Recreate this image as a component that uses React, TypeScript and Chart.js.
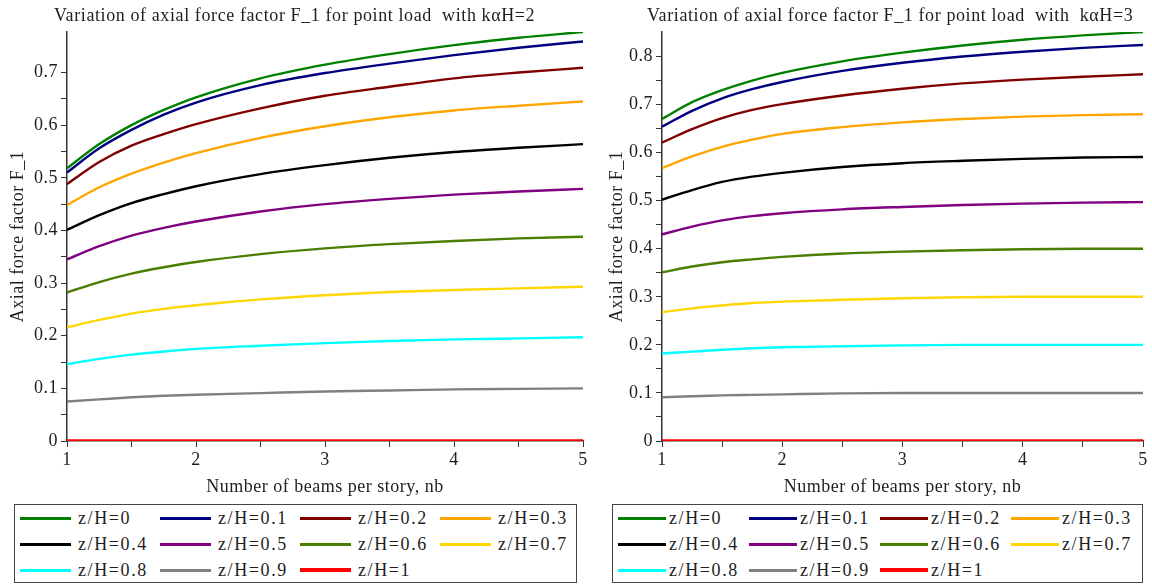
import React, { useEffect, useRef } from 'react';
import { Chart, registerables } from 'chart.js';

Chart.register(...registerables);

// Number of beams per story, nb
const nbValues = [1, 1.25, 1.5, 1.75, 2, 2.5, 3, 3.5, 4, 4.5, 5];

const seriesLabels = [
  'z/H=0', 'z/H=0.1', 'z/H=0.2', 'z/H=0.3',
  'z/H=0.4', 'z/H=0.5', 'z/H=0.6', 'z/H=0.7',
  'z/H=0.8', 'z/H=0.9', 'z/H=1',
];

const seriesColors = [
  '#008000', '#000080', '#800000', '#ffa500',
  '#000000', '#800080', '#4b7d00', '#ffd700',
  '#00ffff', '#808080', '#ff0000',
];

const leftTitle = 'Variation of axial force factor F_1 for point load  with kαH=2';
const rightTitle = 'Variation of axial force factor F_1 for point load  with  kαH=3';
const xAxisTitle = 'Number of beams per story, nb';
const yAxisTitle = 'Axial force factor F_1';

// kαH = 2
const k2_z00 = [0.518, 0.564, 0.600, 0.629, 0.653, 0.689, 0.715, 0.735, 0.752, 0.766, 0.777];
const k2_z01 = [0.510, 0.556, 0.591, 0.620, 0.643, 0.676, 0.699, 0.717, 0.733, 0.747, 0.759];
const k2_z02 = [0.488, 0.530, 0.561, 0.583, 0.602, 0.632, 0.656, 0.673, 0.689, 0.700, 0.709];
const k2_z03 = [0.448, 0.482, 0.508, 0.529, 0.547, 0.576, 0.598, 0.615, 0.628, 0.637, 0.645];
const k2_z04 = [0.401, 0.429, 0.452, 0.469, 0.484, 0.507, 0.524, 0.538, 0.549, 0.557, 0.564];
const k2_z05 = [0.345, 0.370, 0.390, 0.405, 0.417, 0.436, 0.450, 0.460, 0.468, 0.474, 0.479];
const k2_z06 = [0.282, 0.302, 0.318, 0.330, 0.340, 0.355, 0.366, 0.374, 0.380, 0.385, 0.388];
const k2_z07 = [0.216, 0.230, 0.242, 0.251, 0.258, 0.269, 0.277, 0.283, 0.287, 0.290, 0.293];
const k2_z08 = [0.146, 0.156, 0.164, 0.170, 0.175, 0.181, 0.186, 0.190, 0.193, 0.195, 0.197];
const k2_z09 = [0.075, 0.079, 0.083, 0.086, 0.088, 0.091, 0.094, 0.096, 0.098, 0.099, 0.100];
const k2_z10 = [0, 0, 0, 0, 0, 0, 0, 0, 0, 0, 0];

// kαH = 3
const k3_z00 = [0.670, 0.705, 0.730, 0.750, 0.766, 0.790, 0.808, 0.823, 0.835, 0.844, 0.851];
const k3_z01 = [0.654, 0.687, 0.713, 0.732, 0.747, 0.770, 0.787, 0.800, 0.810, 0.818, 0.824];
const k3_z02 = [0.621, 0.649, 0.672, 0.689, 0.701, 0.719, 0.733, 0.744, 0.752, 0.758, 0.763];
const k3_z03 = [0.568, 0.592, 0.612, 0.627, 0.639, 0.653, 0.663, 0.670, 0.675, 0.678, 0.680];
const k3_z04 = [0.502, 0.522, 0.539, 0.550, 0.558, 0.570, 0.578, 0.583, 0.587, 0.590, 0.591];
const k3_z05 = [0.430, 0.446, 0.459, 0.468, 0.474, 0.482, 0.487, 0.491, 0.494, 0.496, 0.497];
const k3_z06 = [0.351, 0.363, 0.372, 0.378, 0.383, 0.390, 0.394, 0.397, 0.399, 0.400, 0.400];
const k3_z07 = [0.268, 0.276, 0.282, 0.287, 0.290, 0.294, 0.297, 0.299, 0.300, 0.300, 0.300];
const k3_z08 = [0.182, 0.186, 0.190, 0.193, 0.195, 0.197, 0.199, 0.200, 0.200, 0.200, 0.200];
const k3_z09 = [0.091, 0.093, 0.095, 0.096, 0.097, 0.099, 0.100, 0.100, 0.100, 0.100, 0.100];
const k3_z10 = [0, 0, 0, 0, 0, 0, 0, 0, 0, 0, 0];

const k2Series = [k2_z00, k2_z01, k2_z02, k2_z03, k2_z04, k2_z05, k2_z06, k2_z07, k2_z08, k2_z09, k2_z10];
const k3Series = [k3_z00, k3_z01, k3_z02, k3_z03, k3_z04, k3_z05, k3_z06, k3_z07, k3_z08, k3_z09, k3_z10];

const xMin = 1;
const xMax = 5;
const k2YMax = 0.777;
const k3YMax = 0.851;

const FONT = '"Liberation Serif", "Times New Roman", serif';
const TEXT = '#1e1e1e';
const AXIS = '#333333';

const spacingPlugin = {
  id: 'letterSpacing',
  beforeLayout(chart: any) { (chart.ctx as any).letterSpacing = '0.5px'; },
  beforeDraw(chart: any) { (chart.ctx as any).letterSpacing = '0.5px'; },
};

// Title drawn at a fixed left position (Maple places it off-centre)
const plotTitlePlugin = {
  id: 'plotTitle',
  afterDraw(chart: any, _args: any, opts: any) {
    const ctx = chart.ctx;
    ctx.save();
    (ctx as any).letterSpacing = opts.spacing || '0.5px';
    ctx.font = `18px ${FONT}`;
    ctx.fillStyle = TEXT;
    ctx.textAlign = 'left';
    ctx.textBaseline = 'middle';
    ctx.fillText(opts.text, opts.x, opts.y);
    ctx.restore();
  },
};

function isMult(v: number, step: number) {
  return Math.abs(v / step - Math.round(v / step)) < 1e-6;
}

function buildConfig(title: string, titleX: number, series: number[][], yMax: number, yWidth: number, yTitlePad: number, padRight: number): any {
  return {
    type: 'line',
    data: {
      datasets: series.map((vals, i) => ({
        label: seriesLabels[i],
        data: nbValues.map((x, j) => ({ x, y: vals[j] })),
        borderColor: seriesColors[i],
        backgroundColor: seriesColors[i],
        borderWidth: i === 10 ? 3.5 : 2.4,
        pointRadius: 0,
        cubicInterpolationMode: 'monotone',
        fill: false,
      })),
    },
    options: {
      animation: false,
      responsive: false,
      events: [],
      layout: { padding: { left: 0, right: padRight, top: 32, bottom: 2 } },
      plugins: {
        legend: { display: false },
        tooltip: { enabled: false },
        title: { display: false },
        plotTitle: { text: title, x: titleX, y: 16, spacing: '0.6px' },
      },
      scales: {
        x: {
          type: 'linear',
          min: xMin,
          max: xMax,
          afterFit: (s: any) => { s.height = 57; },
          afterBuildTicks: (s: any) => { s.ticks = s.ticks.filter((t: any) => isMult(t.value, 0.5)); },
          ticks: {
            stepSize: 0.5,
            autoSkip: false,
            maxRotation: 0,
            padding: 2,
            color: TEXT,
            font: { family: FONT, size: 18 },
            callback: (v: number) => (isMult(v, 1) ? String(Math.round(v)) : ''),
          },
          grid: { drawOnChartArea: false, drawTicks: true, tickLength: 6, color: AXIS },
          border: { display: true, color: AXIS, width: 1.5 },
          title: {
            display: true,
            text: xAxisTitle,
            color: TEXT,
            font: { family: FONT, size: 18, lineHeight: 1.2 },
            padding: { top: 0, bottom: 0 },
          },
        },
        y: {
          type: 'linear',
          min: 0,
          max: yMax,
          afterFit: (s: any) => { s.width = yWidth; },
          afterBuildTicks: (s: any) => { s.ticks = s.ticks.filter((t: any) => isMult(t.value, 0.05)); },
          ticks: {
            stepSize: 0.05,
            autoSkip: false,
            padding: 3,
            color: TEXT,
            font: { family: FONT, size: 18 },
            callback: (v: number) => (isMult(v, 0.1) ? (Math.abs(v) < 1e-9 ? '0' : v.toFixed(1)) : ''),
          },
          grid: { drawOnChartArea: false, drawTicks: true, tickLength: 6, color: AXIS },
          border: { display: true, color: AXIS, width: 1.5 },
          title: {
            display: true,
            text: yAxisTitle,
            color: TEXT,
            font: { family: FONT, size: 18, lineHeight: 1.2 },
            padding: { top: yTitlePad, bottom: 0 },
          },
        },
      },
    },
    plugins: [spacingPlugin, plotTitlePlugin],
  };
}

function Legend({ left, width, colWidth, swatchWidth, gap, padLeft }: any) {
  return (
    <div
      style={{
        position: 'absolute', left, top: 504, width, height: 79, boxSizing: 'border-box',
        border: '1.5px solid #444', paddingLeft: padLeft, paddingTop: 0,
        display: 'grid', gridTemplateColumns: `repeat(4, ${colWidth}px)`, gridAutoRows: '26px',
        alignItems: 'center', fontFamily: FONT,
      }}
    >
      {seriesLabels.map((lab, i) => (
        <div key={lab} style={{ display: 'flex', alignItems: 'center', whiteSpace: 'nowrap' }}>
          <span style={{ display: 'inline-block', width: swatchWidth, height: i === 10 ? 4 : 3, background: seriesColors[i], marginRight: gap }} />
          <span style={{ fontSize: 18, letterSpacing: '1.6px', color: TEXT, lineHeight: '26px' }}>{lab}</span>
        </div>
      ))}
    </div>
  );
}

export default function App() {
  const leftRef = useRef<HTMLCanvasElement>(null);
  const rightRef = useRef<HTMLCanvasElement>(null);

  useEffect(() => {
    const c1 = new Chart(leftRef.current as HTMLCanvasElement, buildConfig(leftTitle, 54, k2Series, k2YMax, 67, 7, 7));
    const c2 = new Chart(rightRef.current as HTMLCanvasElement, buildConfig(rightTitle, 57, k3Series, k3YMax, 72, 16, 9));
    return () => { c1.destroy(); c2.destroy(); };
  }, []);

  return (
    <div style={{ position: 'absolute', left: 0, top: 0, width: 1152, height: 585, background: '#fff', overflow: 'hidden' }}>
      <canvas ref={leftRef} width={590} height={500} style={{ position: 'absolute', left: 0, top: 0, width: 590, height: 500 }} />
      <canvas ref={rightRef} width={562} height={500} style={{ position: 'absolute', left: 590, top: 0, width: 562, height: 500 }} />
      <Legend left={14} width={563} colWidth={140} swatchWidth={51} gap={7} padLeft={5} />
      <Legend left={612} width={531} colWidth={131} swatchWidth={48} gap={3} padLeft={5} />
    </div>
  );
}
